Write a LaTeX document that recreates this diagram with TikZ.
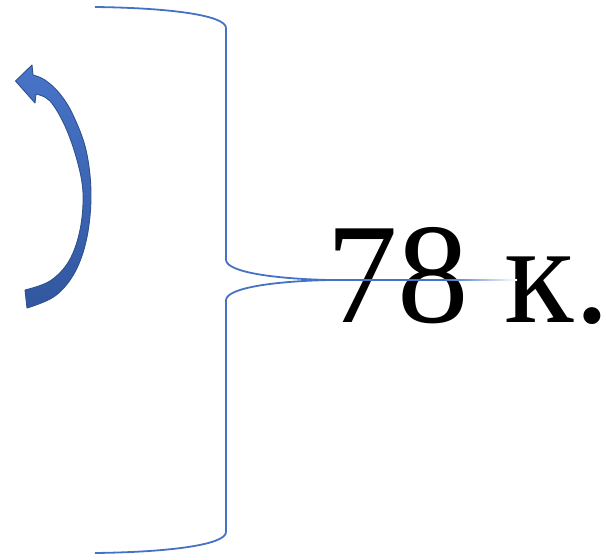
\documentclass[tikz,border=0pt]{standalone}
\usepackage{fontspec}
\newfontfamily\lblfont{LiberationSerif-Regular.ttf}
\definecolor{braceblue}{HTML}{4472C4}
\definecolor{arrowtop}{HTML}{4874C8}
\definecolor{arrowbot}{HTML}{3257A0}
\definecolor{arrowedge}{HTML}{2F528F}
\begin{document}
\begin{tikzpicture}[x=1pt,y=-1pt,
  bracestyle/.style={draw=braceblue,line width=1.8pt},
  arrowshape/.style={top color=arrowtop,bottom color=arrowbot,draw=arrowedge,line width=0.9pt,line join=round}]
\useasboundingbox (0,0) rectangle (607,559);
% label
\node[anchor=base west,inner sep=0pt,font=\lblfont\fontsize{143}{150}\selectfont] (lbl) at (326,322) {78 к.};
% brace
\coordinate (btop) at (95,7);
\coordinate (bbot) at (95,553);
\coordinate (btip) at (330,280);
\coordinate (bsolid) at (445,280);
\draw[bracestyle] (btop) .. controls (175,8) and (226,16) .. (226,28)
  -- (226,260) .. controls (227,273) and (280,279) .. (btip)
  .. controls (280,281) and (227,287) .. (226,300)
  -- (226,532) .. controls (226,544) and (175,552) .. (bbot);
\draw[bracestyle] (btip) -- (bsolid);
\shade[left color=braceblue,right color=white] (445,279.1) rectangle (517,280.9);
% curved arrow
\path[arrowshape] (25,290) -- (27,308)
  -- plot[smooth,tension=0.6] coordinates {(27,308) (55,296) (75,272) (87,237) (91,193) (86,150) (73,115) (60,94) (45,80) (33,75)}
  -- (32,65) -- (15.5,81) -- (35,103) -- (36,94)
  -- plot[smooth,tension=0.6] coordinates {(36,94) (50,101) (65,126) (77,160) (83,193) (80,230) (69,261) (50,281) (25,290)}
  -- cycle;
\end{tikzpicture}
\end{document}
